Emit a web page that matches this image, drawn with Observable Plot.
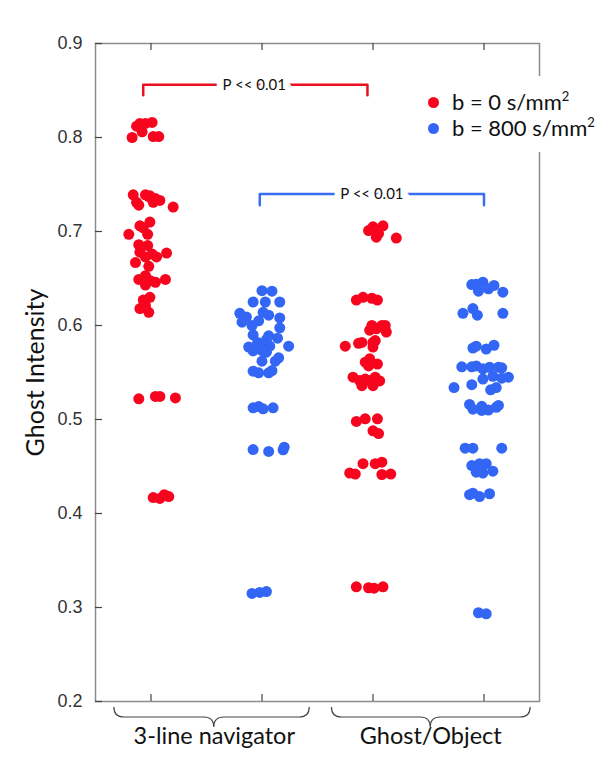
<!DOCTYPE html>
<html><head><meta charset="utf-8">
<script src="https://cdn.jsdelivr.net/npm/d3@7"></script>
<script src="https://cdn.jsdelivr.net/npm/@observablehq/plot@0.6"></script>
<style>
body{margin:0;background:#fff;}
#wrap{position:relative;width:608px;height:779px;}
#legend{position:absolute;left:418px;top:76px;width:186px;height:76px;background:#fff;font-family:Lato,sans-serif;font-size:22px;color:#111;}
.row{position:absolute;left:0;height:26px;line-height:26px;width:186px;}
.dot{position:absolute;left:10px;top:8px;width:11px;height:11px;border-radius:50%;}
.lbl{position:absolute;left:34px;white-space:nowrap;}
.lbl sup{font-size:13px;position:relative;top:1px;vertical-align:top;line-height:13px;}
</style>
</head><body>
<div id="wrap"><div id="legend"></div></div>
<script>
// ---- data: [jitter offset in category units, intensity] ----
const categories = ["3-line navigator", "Ghost/Object"];
const seriesLabels = ["b = 0 s/mm", "b = 800 s/mm"];
const seriesColors = ["#f7051e", "#3366f5"];
const groupPos = [1, 2, 3, 4];
const yTicks = [0.2, 0.3, 0.4, 0.5, 0.6, 0.7, 0.8, 0.9];

const navB0 = [
  [-0.13,0.812],[-0.10,0.815],[-0.05,0.815],[0.01,0.816],[-0.08,0.806],[-0.17,0.800],[0.02,0.801],[0.07,0.801],
  [-0.16,0.739],[-0.05,0.739],[-0.01,0.738],[0.04,0.735],[0.08,0.733],[-0.11,0.728],[0.02,0.731],[0.20,0.726],[-0.02,0.737],[-0.13,0.731],
  [-0.01,0.710],[-0.10,0.706],[-0.20,0.697],[-0.03,0.697],[-0.07,0.704],
  [-0.11,0.686],[-0.03,0.685],[-0.10,0.678],[0.01,0.676],[0.05,0.673],[0.14,0.677],[-0.05,0.673],[-0.14,0.667],[-0.02,0.663],
  [-0.11,0.649],[-0.05,0.653],[-0.01,0.648],[0.04,0.646],[-0.05,0.643],[0.13,0.649],
  [-0.01,0.630],[-0.07,0.627],[-0.10,0.618],[-0.02,0.614],[-0.05,0.621],
  [-0.11,0.522],[0.04,0.5245],[0.08,0.5245],[0.22,0.523],
  [0.02,0.417],[0.08,0.416],[0.12,0.420],[0.16,0.418]
];
const navB800 = [
  [0.00,0.637],[0.09,0.6365],[-0.08,0.625],[0.03,0.625],[0.16,0.625],[-0.20,0.613],[-0.14,0.609],[-0.18,0.6035],
  [0.01,0.614],[0.06,0.611],[0.16,0.608],[-0.03,0.605],[-0.09,0.600],[0.16,0.5975],[-0.08,0.590],[0.06,0.589],
  [0.14,0.5865],[-0.12,0.577],[0.01,0.5805],[0.07,0.578],[0.24,0.578],[-0.08,0.573],[0.00,0.5734],[0.04,0.5716],
  [0.15,0.5656],[0.00,0.562],[0.12,0.562],[-0.08,0.5514],[-0.03,0.5497],[0.06,0.5497],[0.09,0.5521],[-0.04,0.582],[0.04,0.585],
  [-0.08,0.5124],[-0.03,0.5138],[0.01,0.5114],[0.10,0.5124],
  [-0.08,0.468],[0.06,0.466],[0.19,0.4678],[0.20,0.4705],
  [-0.09,0.315],[-0.02,0.316],[0.04,0.317]
];
const ghostB0 = [
  [-0.04,0.701],[0.00,0.705],[0.09,0.706],[0.03,0.694],[0.21,0.693],[0.05,0.698],
  [-0.15,0.627],[-0.09,0.630],[-0.01,0.629],[0.04,0.627],
  [-0.01,0.600],[0.08,0.600],[0.11,0.600],[-0.03,0.595],[0.12,0.593],[0.03,0.5965],
  [-0.25,0.578],[-0.13,0.581],[-0.10,0.582],[0.00,0.582],[0.00,0.577],[0.02,0.584],
  [-0.07,0.561],[-0.03,0.5646],[0.04,0.559],[-0.04,0.557],
  [-0.18,0.545],[-0.12,0.5415],[-0.07,0.543],[-0.10,0.536],[0.02,0.545],[0.06,0.541],[0.00,0.536],[-0.04,0.5415],
  [-0.15,0.498],[-0.07,0.5007],[0.04,0.5007],[0.00,0.488],[0.05,0.485],
  [-0.09,0.453],[0.02,0.453],[0.08,0.4546],[-0.21,0.443],[-0.16,0.442],[0.08,0.4415],[0.16,0.442],
  [-0.15,0.322],[-0.04,0.321],[0.01,0.3205],[0.09,0.322]
];
const ghostB800 = [
  [-0.11,0.6436],[-0.01,0.646],[-0.05,0.6365],[0.04,0.639],[0.09,0.6426],[0.17,0.6354],[-0.07,0.644],
  [-0.19,0.613],[-0.10,0.618],[-0.06,0.611],[0.17,0.613],
  [-0.10,0.576],[-0.07,0.578],[0.02,0.575],[0.09,0.579],
  [-0.20,0.556],[-0.11,0.556],[-0.07,0.557],[-0.01,0.554],[0.05,0.5556],[0.13,0.5556],[0.16,0.555],
  [-0.01,0.543],[0.08,0.546],[0.16,0.544],[0.22,0.545],[-0.27,0.534],[-0.11,0.537],[0.06,0.5316],[0.11,0.534],
  [-0.13,0.516],[-0.10,0.511],[-0.02,0.5096],[-0.02,0.514],[0.04,0.510],[0.11,0.513],[0.13,0.515],
  [-0.17,0.4695],[-0.10,0.4695],[0.16,0.4695],
  [-0.11,0.451],[-0.04,0.453],[0.02,0.453],[-0.07,0.444],[-0.01,0.443],[0.08,0.445],[-0.02,0.4486],
  [-0.13,0.420],[-0.10,0.4216],[-0.04,0.418],[0.05,0.421],
  [-0.05,0.2944],[0.02,0.2933]
];

// significance brackets
const bracketX1 = [0.93, 1.98];
const bracketX2 = [2.95, 4.00];
const bracketTop = [0.856, 0.740];
const bracketLeg = [0.845, 0.728];
const bracketTextX = [1.93, 2.99];
const bracketLabel = ["P << 0.01", "P << 0.01"];
const bracketColors = ["#ea1020", "#3a6ef0"];

// category braces
const braceStart = [0.67, 2.63];
const braceEnd = [2.43, 4.42];
const braceMid = [1.57, 3.52];

// ---- build ----
const W = 608, H = 779, mL = 95, mR = 69, mT = 43, mB = 78;
const groups = [
  {pos: groupPos[0], s: 0, pts: navB0},
  {pos: groupPos[1], s: 1, pts: navB800},
  {pos: groupPos[2], s: 0, pts: ghostB0},
  {pos: groupPos[3], s: 1, pts: ghostB800}
];
const points = groups.flatMap(g => g.pts.map(([o, v]) => ({x: g.pos + o, y: v, series: seriesLabels[g.s]})));
const brackets = bracketX1.map((x1, i) => ({i, x1, x2: bracketX2[i], top: bracketTop[i], leg: bracketLeg[i], tx: bracketTextX[i], label: bracketLabel[i]}));
const bracketPath = b => [{x: b.x1, y: b.leg}, {x: b.x1, y: b.top}, {x: b.x2, y: b.top}, {x: b.x2, y: b.leg}];
const catLabels = categories.map((c, i) => ({x: braceMid[i], text: c}));

function braces(index, scales, values, dims) {
  const g = d3.create("svg:g").attr("fill", "none").attr("stroke", "#444").attr("stroke-width", 1.2);
  const y0 = dims.height - dims.marginBottom;
  braceStart.forEach((a, i) => {
    const xa = scales.x(a), xb = scales.x(braceEnd[i]), xm = scales.x(braceMid[i]);
    const yT = y0 + 6, yM = y0 + 16, yP = y0 + 26, r = 10;
    g.append("path").attr("d",
      `M${xa},${yT}Q${xa},${yM} ${xa + r},${yM}L${xm - r},${yM}Q${xm},${yM} ${xm},${yP}` +
      `Q${xm},${yM} ${xm + r},${yM}L${xb - r},${yM}Q${xb},${yM} ${xb},${yT}`);
  });
  return g.node();
}

const plot = Plot.plot({
  width: W, height: H,
  marginLeft: mL, marginRight: mR, marginTop: mT, marginBottom: mB,
  style: {fontFamily: "Lato, sans-serif", background: "white", overflow: "visible"},
  x: {type: "linear", domain: [0.5, 4.5], axis: null},
  y: {domain: [0.2, 0.9], axis: null},
  color: {domain: seriesLabels, range: seriesColors},
  marks: [
    Plot.frame({stroke: "#8c8c8c", strokeWidth: 1.5}),
    Plot.tickY(yTicks, {y: d => d, insetRight: W - mL - mR - 7, stroke: "#444", strokeWidth: 1.2}),
    Plot.tickX(groupPos, {x: d => d, insetTop: H - mT - mB - 7, stroke: "#444", strokeWidth: 1.2}),
    Plot.tickX(groupPos, {x: d => d, insetBottom: H - mT - mB - 7, stroke: "#444", strokeWidth: 1.2}),
    Plot.axisY({ticks: yTicks, tickSize: 0, tickPadding: 13, tickFormat: d3.format(".1f"),
      fontSize: 18, fontFamily: "'Liberation Sans', Arial, sans-serif", fill: "#333", label: null}),
    Plot.text(["Ghost Intensity"], {frameAnchor: "left", text: d => d, rotate: -90, dx: -60,
      textAnchor: "middle", fontSize: 25, fill: "#111"}),
    Plot.dot(points, {x: "x", y: "y", fill: "series", r: 5.5}),
    ...brackets.map(b => Plot.line(bracketPath(b), {x: "x", y: "y", stroke: bracketColors[b.i], strokeWidth: 2.5})),
    Plot.text(brackets, {x: "tx", y: "top", text: "label", fontSize: 15, fill: "#111",
      stroke: "white", strokeWidth: 14}),
    braces,
    Plot.text(catLabels, {x: "x", text: "text", frameAnchor: "bottom", dy: 42, fontSize: 23.5, fill: "#111"})
  ]
});
document.getElementById("wrap").prepend(plot);

// legend
const legend = document.getElementById("legend");
seriesLabels.forEach((lab, i) => {
  const row = document.createElement("div");
  row.className = "row";
  row.style.top = (13 + i * 26) + "px";
  const dot = document.createElement("span");
  dot.className = "dot";
  dot.style.background = seriesColors[i];
  const t = document.createElement("span");
  t.className = "lbl";
  t.textContent = lab;
  const sup = document.createElement("sup");
  sup.textContent = "2";
  t.appendChild(sup);
  row.appendChild(dot);
  row.appendChild(t);
  legend.appendChild(row);
});
</script>
</body></html>
